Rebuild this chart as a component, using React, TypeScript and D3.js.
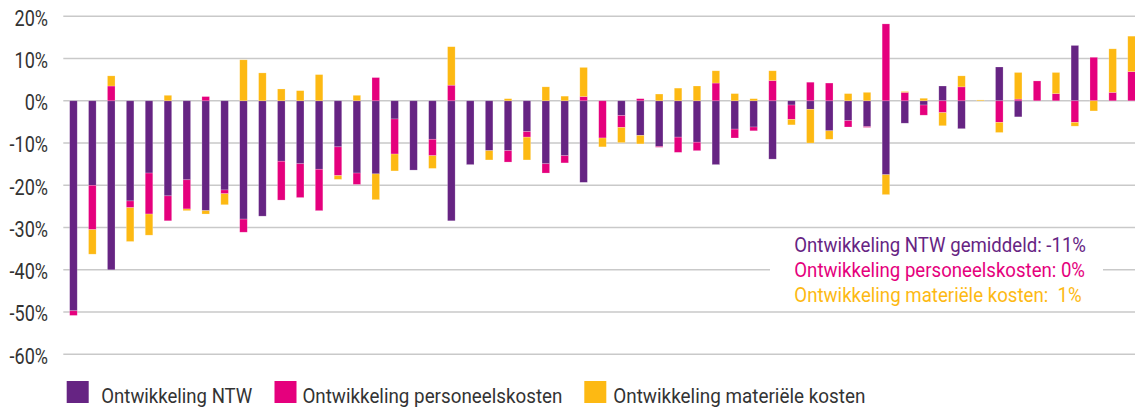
import React from "react";
import * as d3 from "d3";

const categories: string[] = Array.from({ length: 57 }, (_, i) => `O${i + 1}`);

const ntw: number[] = [
  -49.7, -20.0, -40.0, -23.7, -17.1, -22.5, -18.7, -26.0, -21.1, -28.0,
  -27.3, -14.3, -14.9, -16.2, -10.9, -17.1, -17.3, -4.3, -16.4, -9.1,
  -28.4, -15.1, -11.8, -11.8, -7.3, -14.9, -13.0, -19.3, 0, -3.5,
  -8.2, -10.8, -8.6, -9.8, -15.1, -6.7, -6.2, -13.8, -1.0, -2.0,
  -7.1, -4.7, -6.1, -17.5, -5.3, -1.0, 3.5, -6.6, 0, 8.0,
  -3.8, 0, 0, 13.1, 0, 0, 0,
];
const personeel: number[] = [
  -1.1, -10.5, 3.5, -1.6, -9.7, -5.9, -6.9, 1.0, -0.9, -3.1,
  0, -9.2, -8.0, -9.8, -6.8, -2.7, 5.5, -8.3, 0, -3.9,
  3.7, 0, 0, -2.7, -1.3, -2.2, -1.7, 1.0, -8.8, -2.8,
  0.5, -0.2, -3.6, -2.0, 4.2, -2.1, -0.9, 4.8, -3.4, 4.4,
  4.2, -1.5, -0.2, 18.2, 2.0, -2.4, -2.8, 3.3, 0, -5.1,
  0.4, 4.7, 1.7, -5.1, 10.3, 2.0, 6.9,
];
const materieel: number[] = [
  0, -5.8, 2.4, -8.0, -5.0, 1.3, -0.4, -0.8, -2.6, 9.7,
  6.6, 2.8, 2.4, 6.2, -0.9, 1.3, -6.1, -4.0, 0, -3.0,
  9.1, 0, -2.2, 0.5, -5.4, 3.3, 1.1, 6.9, -2.1, -3.6,
  -2.0, 1.6, 3.0, 3.5, 2.9, 1.7, 0.5, 2.3, -1.3, -8.0,
  -2.0, 1.7, 2.0, -4.7, 0.2, 0.6, -3.1, 2.6, 0.2, -2.4,
  6.3, 0, 5.0, -0.9, -2.4, 10.3, 8.4,
];

const yTicks: number[] = [20, 10, 0, -10, -20, -30, -40, -50, -60];
const seriesKeys = ["ntw", "personeel", "materieel"];
const seriesLabels: string[] = [
  "Ontwikkeling NTW",
  "Ontwikkeling personeelskosten",
  "Ontwikkeling materiële kosten",
];
const colors: string[] = ["#662483", "#E5007D", "#FDB913"];
const summaryLines: string[] = [
  "Ontwikkeling NTW gemiddeld: -11%",
  "Ontwikkeling personeelskosten: 0%",
  "Ontwikkeling materiële kosten:  1%",
];

const W = 1135;
const H = 410;
const FONT = "Roboto, 'Noto Sans', sans-serif";

export default function App() {
  const rows = categories.map((c, i) => ({
    cat: c,
    ntw: ntw[i],
    personeel: personeel[i],
    materieel: materieel[i],
  }));
  const stacked = d3
    .stack<any>()
    .keys(seriesKeys)
    .offset(d3.stackOffsetDiverging)(rows);

  const x = d3
    .scaleBand<string>()
    .domain(categories)
    .range([64, 1141])
    .paddingInner(0.6)
    .paddingOuter(0.3);
  const y = d3.scaleLinear().domain([-60, 20]).range([354.3, 16.3]);

  const legendX = [66.7, 274.5, 584.3];
  const legendTextX = [101.3, 302.4, 613.3];
  const legendTextW = [151, 260, 252];
  const summaryW = [291.7, 290.7, 287.4];

  return (
    <div style={{ position: "absolute", left: 0, top: 0 }}>
      <svg width={W} height={H} style={{ display: "block", background: "#fff" }}>
        {yTicks.map((t) => (
          <g key={t}>
            <line
              x1={63.3}
              x2={W}
              y1={y(t)}
              y2={y(t)}
              stroke="#c9c9c9"
              strokeWidth={1.6}
            />
            <text
              transform={`translate(48,${y(t) + 9.3}) scale(0.84,1)`}
              textAnchor="end"
              fontFamily={FONT}
              fontSize={21.5}
              fill="#333"
            >
              {`${t}%`}
            </text>
          </g>
        ))}
        {stacked.map((s, si) => (
          <g key={s.key} fill={colors[si]}>
            {s.map((d, i) => {
              const top = y(Math.max(d[0], d[1]));
              const bot = y(Math.min(d[0], d[1]));
              if (bot - top <= 0) return null;
              return (
                <rect
                  key={i}
                  x={x(categories[i])}
                  y={top}
                  width={x.bandwidth()}
                  height={bot - top}
                  stroke="#ffffff"
                  strokeOpacity={0.35}
                  strokeWidth={0.6}
                />
              );
            })}
          </g>
        ))}
        <rect x={770} y={231} width={333} height={78} fill="#fff" />
        {summaryLines.map((s, i) => (
          <text
            key={i}
            x={794.3}
            y={251.7 + i * 25.1}
            fontFamily={FONT}
            fontSize={20}
            fill={colors[i]}
            textLength={summaryW[i]}
            lengthAdjust="spacingAndGlyphs"
            style={{ whiteSpace: "pre" }}
          >
            {s}
          </text>
        ))}
        {seriesLabels.map((l, i) => (
          <g key={l}>
            <rect x={legendX[i]} y={381} width={22} height={22} fill={colors[i]} />
            <text
              x={legendTextX[i]}
              y={403}
              fontFamily={FONT}
              fontSize={21}
              fill="#333"
              textLength={legendTextW[i]}
              lengthAdjust="spacingAndGlyphs"
            >
              {l}
            </text>
          </g>
        ))}
      </svg>
    </div>
  );
}
